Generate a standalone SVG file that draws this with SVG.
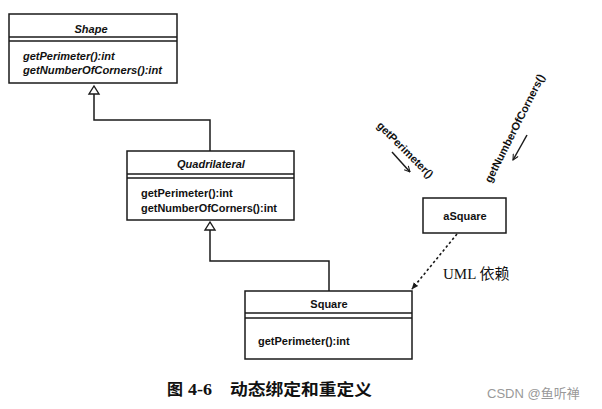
<svg xmlns="http://www.w3.org/2000/svg" width="602" height="409" viewBox="0 0 602 409">
<defs>
<style>
.box{fill:#fff;stroke:#1a1a1a;stroke-width:1.5}
.ln{fill:none;stroke:#1a1a1a;stroke-width:1.5}
.tri{fill:#fff;stroke:#1a1a1a;stroke-width:1.4}
.t{font-family:"Liberation Sans",Arial,sans-serif;font-size:11px;font-weight:bold;fill:#111}
.it{font-style:italic}
.mid{text-anchor:middle}
.dash{fill:none;stroke:#1a1a1a;stroke-width:1.6;stroke-dasharray:2.5 2.5}
.cap{font-family:"Liberation Serif","Noto Sans CJK SC",serif;font-weight:bold;font-size:16px;fill:#111}
.uml{font-family:"Liberation Serif","Noto Sans CJK SC",serif;font-size:15px;fill:#111}
.wm{font-family:"Liberation Sans","Noto Sans CJK SC",sans-serif;font-size:13px;fill:#999}
</style>
<marker id="dep" viewBox="0 0 10 10" refX="9" refY="5" markerWidth="7" markerHeight="7" orient="auto" markerUnits="userSpaceOnUse">
<path d="M0,1 L10,5 L0,9 Z" fill="#1a1a1a"/>
</marker>
<marker id="msg" viewBox="0 0 10 10" refX="9" refY="5" markerWidth="7" markerHeight="7" orient="auto" markerUnits="userSpaceOnUse">
<path d="M1,1 L9,5 L1,9" fill="none" stroke="#1a1a1a" stroke-width="1.5"/>
</marker>
</defs>
<rect width="602" height="409" fill="#fff"/>

<g id="connectors">
<polyline class="ln" points="94,94 94,120 210,120 210,151"/>
<polygon class="tri" points="94,86 89,94 99,94"/>
<polyline class="ln" points="210,230 210,261 329,261 329,291"/>
<polygon class="tri" points="210,222 205,230 215,230"/>
<line class="dash" x1="457" y1="234" x2="412" y2="289" marker-end="url(#dep)"/>
<text class="uml" x="443" y="279">UML 依赖</text>
</g>

<g id="Shape">
<rect class="box" x="9" y="14" width="168" height="69"/>
<line class="ln" x1="9" y1="37" x2="177" y2="37"/>
<line class="ln" x1="9" y1="41" x2="177" y2="41"/>
<text class="t it mid" x="91" y="33">Shape</text>
<text class="t it" x="23" y="60">getPerimeter():int</text>
<text class="t it" x="23" y="74" textLength="139" lengthAdjust="spacingAndGlyphs">getNumberOfCorners():int</text>
</g>

<g id="Quadrilateral">
<rect class="box" x="127" y="151" width="167" height="69"/>
<line class="ln" x1="127" y1="174" x2="294" y2="174"/>
<line class="ln" x1="127" y1="178" x2="294" y2="178"/>
<text class="t it mid" x="211" y="168">Quadrilateral</text>
<text class="t" x="141" y="197">getPerimeter():int</text>
<text class="t" x="141" y="212" textLength="136" lengthAdjust="spacingAndGlyphs">getNumberOfCorners():int</text>
</g>

<g id="Square">
<rect class="box" x="245" y="291" width="167" height="68"/>
<line class="ln" x1="245" y1="313" x2="412" y2="313"/>
<line class="ln" x1="245" y1="318" x2="412" y2="318"/>
<text class="t mid" x="329" y="308">Square</text>
<text class="t" x="258" y="345">getPerimeter():int</text>
</g>

<g id="aSquare">
<rect class="box" x="423" y="198" width="83" height="35"/>
<text class="t mid" x="465" y="220">aSquare</text>
</g>

<g id="msg-getPerimeter">
<text class="t mid" transform="translate(402.5,152.5) rotate(45)">getPerimeter()</text>
<line class="ln" x1="392" y1="152" x2="410" y2="172" marker-end="url(#msg)"/>
</g>

<g id="msg-getNumberOfCorners">
<text class="t mid" transform="translate(518,130) rotate(-63.2)">getNumberOfCorners()</text>
<line class="ln" x1="527" y1="135" x2="513" y2="160" marker-end="url(#msg)"/>
</g>

<g id="caption">
<text class="cap" x="167" y="395">图</text>
<text class="cap" x="188" y="395" textLength="24" lengthAdjust="spacingAndGlyphs">4-6</text>
<text class="cap" x="230" y="395" textLength="142" lengthAdjust="spacingAndGlyphs">动态绑定和重定义</text>
<text class="wm" x="487" y="398">CSDN @鱼听禅</text>
</g>
</svg>
